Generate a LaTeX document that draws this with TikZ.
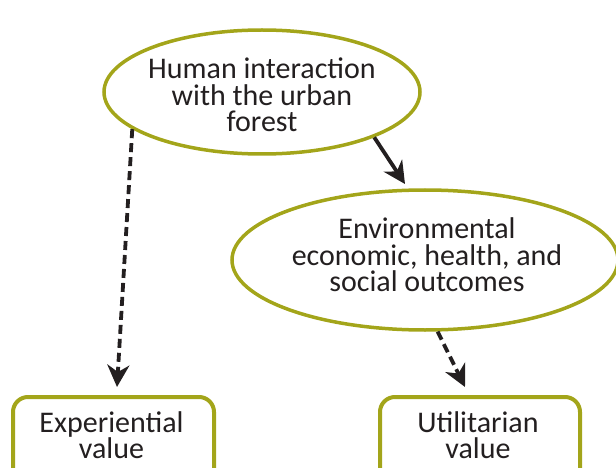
\documentclass[tikz,border=0pt]{standalone}
\usepackage{fontspec}
\setmainfont{Carlito}
\usetikzlibrary{arrows.meta,shapes.geometric}
\definecolor{olive}{RGB}{163,165,26}
\definecolor{ink}{RGB}{35,31,32}
\tikzset{
  ell/.style={ellipse, draw=olive, line width=3.5pt, inner sep=0pt, align=center, text=ink},
  vbox/.style={draw=olive, line width=4pt, rounded corners=15pt, align=center, text=ink},
  conn/.style={draw=ink, line width=3.8pt, -{Stealth[length=22pt,width=22pt,inset=7pt]}},
  dconn/.style={conn, dash pattern=on 9pt off 5pt},
}
\begin{document}
\begin{tikzpicture}[x=1pt,y=-1pt,font=\fontsize{30}{26.5}\selectfont]
\useasboundingbox (0,0) rectangle (616,468);
\node[ell, minimum width=316pt, minimum height=124pt] (h) at (262,92) {};
\node[text=ink, align=center] (ht) at (262,95) {Human interaction\\with the urban\\forest};
\node[ell, minimum width=386pt, minimum height=140pt] (e) at (425,260) {};
\node[text=ink, align=center] (et) at (427,255) {Environmental\\economic, health, and\\social outcomes};
\node[vbox, minimum width=201pt, minimum height=100pt, anchor=north west] (x) at (11,395) {};
\node[vbox, minimum width=200pt, minimum height=100pt, anchor=north west] (u) at (378,395) {};
\node[text=ink, align=center] (xt) at (111.5,435) {Experiential\\value};
\node[text=ink, align=center] (ut) at (478,435) {Utilitarian\\value};
\coordinate (t1) at (117,387);
\coordinate (t2) at (465,387);
\coordinate (t3) at (405,184);
\draw[conn] (h.338) -- (t3);
\draw[dconn] (h.196) -- (t1);
\draw[dconn] (e.-80) -- (t2);
\end{tikzpicture}
\end{document}
